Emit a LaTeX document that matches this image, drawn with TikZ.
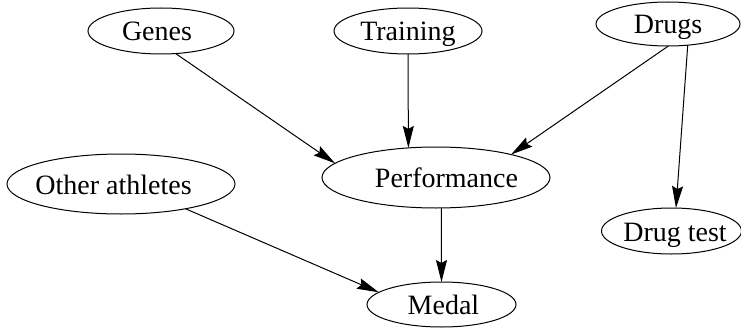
\documentclass[tikz,border=0pt]{standalone}
\usepackage{fontspec}
\setmainfont{Liberation Serif}
\usetikzlibrary{shapes.geometric,arrows.meta}
% label set off-centre by half of #1 inside its ellipse
\newcommand\offlabel[2]{\makebox[0pt]{\hspace*{#1}#2}}
\begin{document}
\begin{tikzpicture}[x=1pt,y=1pt,
  var/.style={draw,ellipse,line width=1pt,inner sep=0pt,outer sep=0pt,
    font=\fontsize{28}{32}\selectfont,text height=20pt,text depth=0pt,
    minimum height=46pt},
  link/.style={line width=1pt,-{Stealth[length=22pt,width=11pt,inset=3pt]}}]
\useasboundingbox (0,0) rectangle (741,330);
% variables
\node[var,minimum width=146pt] (genes) at (161,299) {\offlabel{-8pt}{Genes}};
\node[var,minimum width=148pt] (training) at (408,299) {Training};
\node[var,minimum width=144pt,minimum height=44pt] (drugs) at (668,306) {Drugs};
\node[var,minimum width=228pt,minimum height=61pt] (perf) at (436,152.5) {\offlabel{21pt}{Performance}};
\node[var,minimum width=228pt,minimum height=60pt] (other) at (121,146) {\offlabel{-15pt}{Other athletes}};
\node[var,minimum width=149pt,minimum height=45pt] (medal) at (441.5,25.5) {\offlabel{4pt}{Medal}};
\node[var,minimum width=140pt] (drugtest) at (671.5,99) {\offlabel{7pt}{Drug test}};
% causal links
\draw[link] (genes.-57) -- (perf.172);
\draw[link] (training.south) -- (perf.133.4);
\draw[link] (drugs.-89) -- (perf.17.4);
\draw[link] (drugs.-47) -- (drugtest.79);
\draw[link] (perf.-80) -- (medal.north);
\draw[link] (other.-21) -- (medal.169);
\end{tikzpicture}
\end{document}
